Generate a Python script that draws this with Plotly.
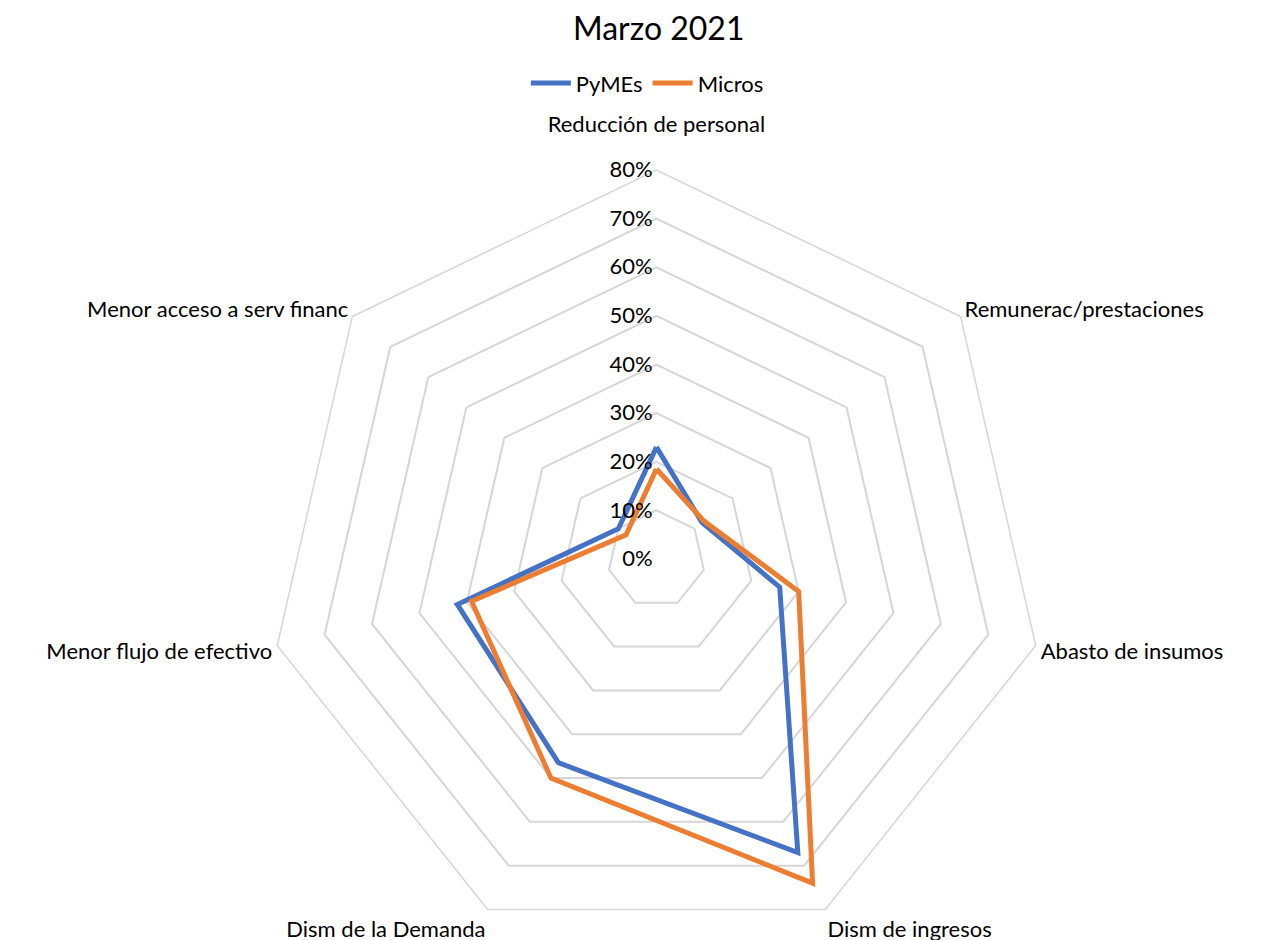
import plotly.graph_objects as go

categories = ["Reducción de personal", "Remunerac/prestaciones", "Abasto de insumos",
              "Dism de ingresos", "Dism de la Demanda", "Menor flujo de efectivo",
              "Menor acceso a serv financ"]
pymes = [0.23, 0.12, 0.26, 0.67, 0.465, 0.42, 0.10]
micros = [0.185, 0.125, 0.30, 0.74, 0.50, 0.39, 0.08]
radial_ticks = [0, 0.1, 0.2, 0.3, 0.4, 0.5, 0.6, 0.7, 0.8]

FONT = "Lato, Calibri, Carlito, sans-serif"

# top label pushed up by an empty second line (Excel places it further out)
ticktext = [c + "<br> " if i == 0 else c for i, c in enumerate(categories)]

fig = go.Figure()
for name, vals, color in [("PyMEs", pymes, "#4472C4"), ("Micros", micros, "#ED7D31")]:
    fig.add_trace(go.Scatterpolar(
        r=vals + vals[:1], theta=categories + categories[:1],
        mode="lines", name=name,
        line=dict(color=color, width=5, shape="linear"),
    ))

fig.update_layout(
    width=1266, height=940,
    paper_bgcolor="white", plot_bgcolor="white",
    font=dict(family=FONT, size=22, color="#000000"),
    margin=dict(l=0, r=0, t=162, b=0),
    title=dict(text="Marzo 2021", x=0.514, xanchor="center", y=0.978, yanchor="middle",
               yref="container", font=dict(size=32, family=FONT, color="#000000")),
    legend=dict(orientation="h", x=0.505, xanchor="center", y=0.92, yanchor="middle",
                yref="container", font=dict(size=22, family=FONT), itemwidth=40,
                bgcolor="rgba(0,0,0,0)"),
    polar=dict(
        domain=dict(x=[0.096, 0.9284], y=[0, 1]),
        bgcolor="white",
        gridshape="linear",
        radialaxis=dict(
            range=[0, 0.8], tickvals=radial_ticks, tickformat=".0%",
            angle=90, tickangle=90, side="counterclockwise",
            showline=False, ticks="", gridcolor="#D6D6D6", gridwidth=1.5,
            tickfont=dict(size=22, family=FONT),
        ),
        angularaxis=dict(
            rotation=90, direction="clockwise",
            tickmode="array", tickvals=categories, ticktext=ticktext,
            showgrid=False, showline=True, linecolor="#D6D6D6", linewidth=1.5,
            ticks="", tickfont=dict(size=22, family=FONT),
        ),
    ),
)

fig.write_html("out.html")
